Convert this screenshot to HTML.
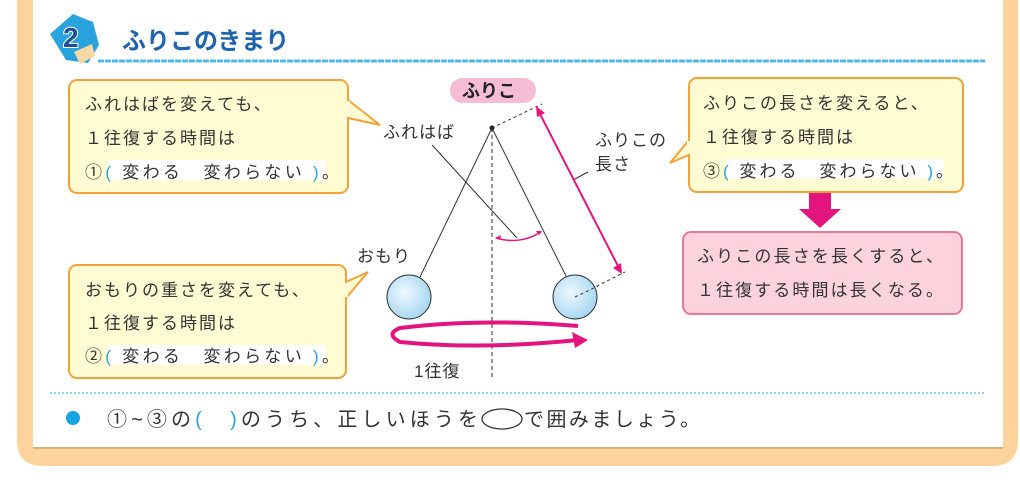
<!DOCTYPE html>
<html><head><meta charset="utf-8"><style>
html,body{margin:0;padding:0;background:#fff}
svg{display:block}
text{font-family:"Liberation Sans","Noto Sans CJK JP",sans-serif;fill:#333}
</style></head><body>
<svg width="1020" height="482" viewBox="0 0 1020 482" xmlns="http://www.w3.org/2000/svg">
<path d="M17,0 H1018 V440 Q1018,466 992,466 H43 Q17,466 17,440 Z" fill="#fcd39a"/>
<path d="M33,0 H1003 V447 H33 Z" fill="#fff"/>
<line x1="33" y1="448" x2="1003" y2="448" stroke="#d8b07a" stroke-width="2"/>
<!-- badge -->
<path d="M50,34 L73,14 L93,22 L99,45 L88,63 L66,60 Z" fill="#29a3dd"/>
<path d="M74,52 L92,44 L95,56 L80,64 Z" fill="#f8d9a6"/>
<text x="63" y="47" font-size="28" font-weight="bold" style="fill:#1d4f9a;stroke:#fff;stroke-width:2;paint-order:stroke">2</text>
<text x="122" y="49" font-size="24" font-weight="bold" style="fill:#1e63ad">ふりこのきまり</text>
<line x1="98" y1="61" x2="985" y2="61" stroke="#4fb8ea" stroke-width="3" stroke-dasharray="6 1"/>
<!-- box1 -->
<path d="M348,100 L380,125 L348,118" fill="#fffbd3" stroke="#f3a23a" stroke-width="2"/>
<rect x="69" y="80" width="279" height="113" rx="8" fill="#fffbd3" stroke="#f3a23a" stroke-width="2"/>
<rect x="345" y="101" width="5" height="16" fill="#fffbd3"/>
<g font-size="17" letter-spacing="2">
<text x="85" y="110">ふれはばを変えても、</text>
<text x="85" y="144">１往復する時間は</text>
<rect x="108" y="160" width="218" height="20" fill="#fff"/>
<text x="85" y="178" textLength="256" lengthAdjust="spacing">①<tspan style="fill:#29a3dd">(</tspan> 変わる　変わらない <tspan style="fill:#29a3dd">)</tspan>。</text>
</g>
<!-- box2 -->
<path d="M346,282 L368,272 L346,298" fill="#fffbd3" stroke="#f3a23a" stroke-width="2"/>
<rect x="69" y="265" width="277" height="113" rx="8" fill="#fffbd3" stroke="#f3a23a" stroke-width="2"/>
<rect x="343" y="283" width="5" height="14" fill="#fffbd3"/>
<g font-size="17" letter-spacing="2">
<text x="85" y="296">おもりの重さを変えても、</text>
<text x="85" y="329">１往復する時間は</text>
<rect x="108" y="345" width="218" height="20" fill="#fff"/>
<text x="85" y="362" textLength="256" lengthAdjust="spacing">②<tspan style="fill:#29a3dd">(</tspan> 変わる　変わらない <tspan style="fill:#29a3dd">)</tspan>。</text>
</g>
<!-- box3 -->
<path d="M689,140 L670,163 L689,155" fill="#fffbd3" stroke="#f3a23a" stroke-width="2"/>
<rect x="689" y="78" width="274" height="114" rx="8" fill="#fffbd3" stroke="#f3a23a" stroke-width="2"/>
<rect x="687" y="141" width="5" height="13" fill="#fffbd3"/>
<g font-size="17" letter-spacing="2">
<text x="703" y="109">ふりこの長さを変えると、</text>
<text x="703" y="143">１往復する時間は</text>
<rect x="726" y="159" width="218" height="20" fill="#fff"/>
<text x="703" y="177" textLength="252" lengthAdjust="spacing">③<tspan style="fill:#29a3dd">(</tspan> 変わる　変わらない <tspan style="fill:#29a3dd">)</tspan>。</text>
</g>
<path d="M809,193 H831 V209 H841 L820,228 L799,209 H809 Z" fill="#e4147f"/>
<rect x="683" y="232" width="279" height="82" rx="8" fill="#fcd3dc" stroke="#e9799c" stroke-width="2"/>
<g font-size="17" letter-spacing="2">
<text x="697" y="262" textLength="248" lengthAdjust="spacing">ふりこの長さを長くすると、</text>
<text x="697" y="296" textLength="248" lengthAdjust="spacing">１往復する時間は長くなる。</text>
</g>
<!-- pendulum -->
<rect x="450" y="78" width="86" height="25" rx="12.5" fill="#f5bcd3"/>
<text x="462" y="97" font-size="18" font-weight="bold" style="fill:#222">ふりこ</text>
<line x1="492" y1="128" x2="492" y2="380" stroke="#333" stroke-width="1" stroke-dasharray="4 3"/>
<line x1="492" y1="128" x2="542" y2="104" stroke="#333" stroke-dasharray="3 3"/>
<line x1="575" y1="297" x2="625" y2="272" stroke="#333" stroke-dasharray="3 3"/>
<line x1="492" y1="128" x2="420" y2="277" stroke="#333"/>
<line x1="492" y1="128" x2="566" y2="276" stroke="#333"/>
<circle cx="492" cy="128" r="2.5" fill="#222"/>
<line x1="432" y1="145" x2="517" y2="238" stroke="#333"/>
<line x1="573" y1="180" x2="588" y2="172" stroke="#333"/>
<defs>
<radialGradient id="g" cx="0.4" cy="0.4" r="0.6"><stop offset="0" stop-color="#eef8fe"/><stop offset="1" stop-color="#a9d8f2"/></radialGradient>
</defs>
<circle cx="409" cy="297" r="22" fill="url(#g)" stroke="#333"/>
<circle cx="575" cy="297" r="22" fill="url(#g)" stroke="#333"/>
<line x1="575" y1="297" x2="598" y2="286" stroke="#333" stroke-dasharray="3 3"/>
<path d="M496,238 Q520,245 541,232" fill="none" stroke="#e4147f" stroke-width="1.5"/>
<path d="M495,238 l6,-3 l-1,5z M542,231 l-6,0 l3,4z" fill="#e4147f"/>
<line x1="539" y1="112" x2="619" y2="268" stroke="#e4147f" stroke-width="2"/>
<path d="M536,106 L545,113 L537,117 Z M622,274 L613,268 L621,263 Z" fill="#e4147f"/>
<path d="M578,326 Q480,318 400,328 Q385,334 400,342 Q480,350 578,340" fill="none" stroke="#e4147f" stroke-width="4"/>
<path d="M588,340 L572,332 L575,348 Z" fill="#e4147f"/>
<g font-size="17" letter-spacing="1">
<text x="383" y="138">ふれはば</text>
<text x="595" y="146">ふりこの</text>
<text x="595" y="170">長さ</text>
<text x="357" y="262">おもり</text>
<text x="414" y="377">1往復</text>
</g>
<!-- bottom -->
<line x1="50" y1="393" x2="985" y2="393" stroke="#8fd0ef" stroke-width="2" stroke-dasharray="2 2"/>
<circle cx="73" cy="418" r="7" fill="#14a3e3"/>
<g font-size="20">
<text x="107" y="426" textLength="371" lengthAdjust="spacing">①~③の<tspan style="fill:#29a3dd">(　)</tspan>のうち、正しいほうを</text>
<text x="524" y="426" textLength="176" lengthAdjust="spacing">で囲みましょう。</text>
</g>
<ellipse cx="502" cy="419" rx="20" ry="10" fill="none" stroke="#333" stroke-width="1.3"/>
</svg>
</body></html>
